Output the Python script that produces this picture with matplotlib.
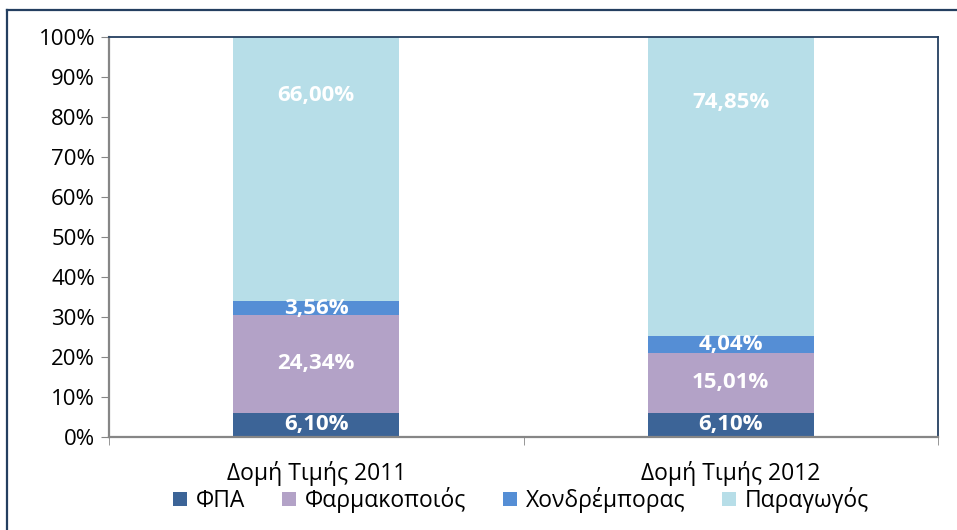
import matplotlib.pyplot as plt
from matplotlib.lines import Line2D
from matplotlib.ticker import MultipleLocator, FuncFormatter

plt.rcParams['font.family'] = ['Open Sans', 'DejaVu Sans']

categories = ['Δομή Τιμής 2011', 'Δομή Τιμής 2012']
series_names = ['ΦΠΑ', 'Φαρμακοποιός', 'Χονδρέμπορας', 'Παραγωγός']
values = {
    'ΦΠΑ': [6.10, 6.10],
    'Φαρμακοποιός': [24.34, 15.01],
    'Χονδρέμπορας': [3.56, 4.04],
    'Παραγωγός': [66.00, 74.85],
}
colors = ['#3C6497', '#B3A2C7', '#558ED5', '#B7DEE8']

W, H = 957, 530
fig = plt.figure(figsize=(W / 100, H / 100), dpi=100)
ax = fig.add_axes([109 / W, 1 - 437 / H, 829 / W, 400 / H])

# outer chart frame (only top and left edge are visible in the crop)
frame = '#243F60'
fig.lines.append(Line2D([7 / W, 1], [1 - 10 / H] * 2, transform=fig.transFigure,
                        color=frame, lw=1.6))
fig.lines.append(Line2D([7 / W] * 2, [0, 1 - 10 / H], transform=fig.transFigure,
                        color=frame, lw=1.6))

x = list(range(len(categories)))
bottom = [0.0] * len(categories)
for k, (name, col) in enumerate(zip(series_names, colors)):
    vals = values[name]
    ax.bar(x, vals, width=0.4, bottom=bottom, color=col, label=name)
    for i, v in enumerate(vals):
        # top segment label sits high in the bar, as in the original
        frac = 0.78 if k == len(series_names) - 1 else 0.5
        ax.text(x[i], bottom[i] + v * frac, f'{v:.2f}%'.replace('.', ','),
                ha='center', va='center', color='white',
                fontsize=16, fontweight='bold')
    bottom = [b + v for b, v in zip(bottom, vals)]

ax.set_xlim(-0.5, 1.5)
ax.set_ylim(0, 100)
ax.yaxis.set_major_locator(MultipleLocator(10))
ax.yaxis.set_major_formatter(FuncFormatter(lambda v, p: f'{v:.0f}%'))
ax.tick_params(axis='y', labelsize=16, length=6, color='#868686', pad=4)

ax.set_xticks(x)
ax.set_xticklabels(categories, fontsize=16.5)
ax.tick_params(axis='x', length=0, pad=17)
ax.set_xticks([-0.5, 0.5, 1.5], minor=True)
ax.tick_params(axis='x', which='minor', length=6, color='#868686')

for s in ['left', 'bottom']:
    ax.spines[s].set_color('#868686')
    ax.spines[s].set_linewidth(1.6)
for s in ['top', 'right']:
    ax.spines[s].set_color(frame)
    ax.spines[s].set_linewidth(1.3)

fig.legend(loc='center', bbox_to_anchor=(521 / W, 1 - 500 / H), ncol=4,
           frameon=False, fontsize=16.5, handlelength=0.6, handleheight=0.6,
           handletextpad=0.4, columnspacing=1.6, borderpad=0)

fig.savefig('out.png', dpi=100)
